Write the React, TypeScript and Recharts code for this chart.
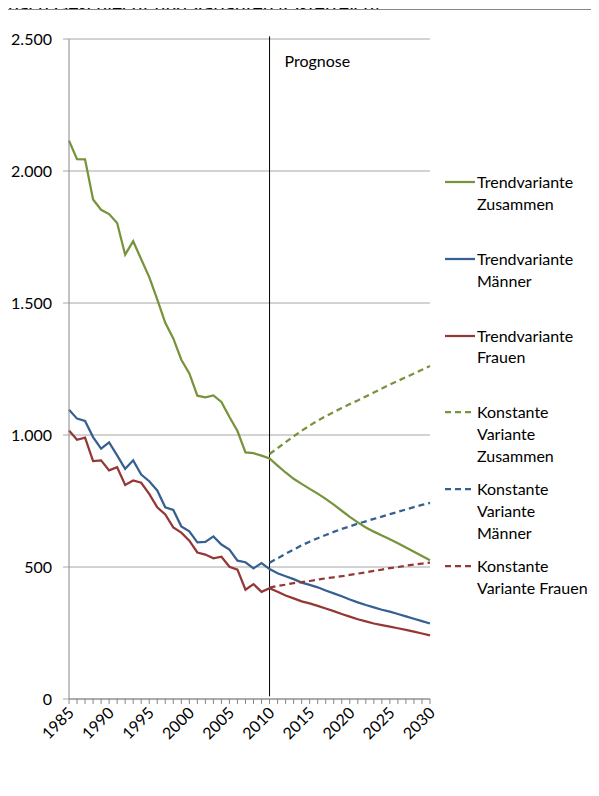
import React from 'react';
import {
  LineChart,
  Line,
  XAxis,
  YAxis,
  CartesianGrid,
  ReferenceLine,
  Legend,
} from 'recharts';

const FONT = 'Lato, "Open Sans", sans-serif';

const years = [
  1985, 1986, 1987, 1988, 1989, 1990, 1991, 1992, 1993, 1994,
  1995, 1996, 1997, 1998, 1999, 2000, 2001, 2002, 2003, 2004,
  2005, 2006, 2007, 2008, 2009, 2010, 2011, 2012, 2013, 2014,
  2015, 2016, 2017, 2018, 2019, 2020, 2021, 2022, 2023, 2024,
  2025, 2026, 2027, 2028, 2029, 2030,
];

// Trendvariante, 1985–2030
const trendZusammen = [
  2115, 2045, 2044, 1892, 1853, 1837, 1803, 1683, 1734, 1666,
  1598, 1514, 1425, 1366, 1285, 1233, 1149, 1143, 1150, 1125,
  1068, 1015, 934, 931, 922, 911, 884, 858, 834, 815,
  796, 778, 758, 736, 713, 690, 669, 650, 634, 619,
  605, 590, 574, 558, 542, 526,
];
const trendMaenner = [
  1096, 1062, 1053, 992, 948, 972, 923, 872, 904, 850,
  825, 790, 726, 716, 654, 635, 593, 595, 616, 585,
  566, 524, 518, 495, 515, 492, 476, 465, 454, 441,
  432, 423, 411, 400, 389, 377, 366, 356, 347, 338,
  331, 322, 313, 304, 295, 286,
];
const trendFrauen = [
  1017, 982, 990, 901, 904, 866, 878, 811, 828, 819,
  777, 726, 699, 650, 630, 600, 555, 547, 533, 539,
  501, 490, 414, 435, 406, 420, 406, 392, 381, 370,
  362, 353, 343, 333, 322, 312, 302, 294, 286, 280,
  274, 268, 262, 255, 248, 241,
];

// Konstante Variante, 2010–2030
const konstanteStart = 2010;
const konstZusammen = [
  928, 950, 973, 995, 1016, 1036, 1054, 1071, 1087, 1102,
  1117, 1131, 1146, 1161, 1176, 1191, 1205, 1219, 1233, 1247,
  1261,
];
const konstMaenner = [
  516, 533, 550, 566, 582, 596, 609, 621, 633, 644,
  654, 664, 673, 682, 691, 700, 709, 718, 727, 735,
  743,
];
const konstFrauen = [
  422, 428, 433, 439, 443, 447, 452, 457, 461, 465,
  470, 475, 480, 485, 490, 496, 500, 505, 509, 513,
  517,
];

const yTicks = [0, 500, 1000, 1500, 2000, 2500];
const labelledYears = [1985, 1990, 1995, 2000, 2005, 2010, 2015, 2020, 2025, 2030];

const series = [
  { key: 'tz', name: 'Trendvariante\nZusammen', color: '#77933C', dashed: false },
  { key: 'tm', name: 'Trendvariante\nMänner', color: '#376092', dashed: false },
  { key: 'tf', name: 'Trendvariante\nFrauen', color: '#953735', dashed: false },
  { key: 'kz', name: 'Konstante\nVariante\nZusammen', color: '#77933C', dashed: true },
  { key: 'km', name: 'Konstante\nVariante\nMänner', color: '#376092', dashed: true },
  { key: 'kf', name: 'Konstante\nVariante Frauen', color: '#953735', dashed: true },
];

const offset = years.indexOf(konstanteStart);
const data = years.map((year, i) => ({
  year,
  tz: trendZusammen[i],
  tm: trendMaenner[i],
  tf: trendFrauen[i],
  kz: i >= offset ? konstZusammen[i - offset] : null,
  km: i >= offset ? konstMaenner[i - offset] : null,
  kf: i >= offset ? konstFrauen[i - offset] : null,
}));

const formatDe = (v: number) => String(v).replace(/\B(?=(\d{3})+(?!\d))/g, '.');

const DASH = '6 4';

const XTick = (props: any) => {
  const { x, y, payload } = props;
  if (!labelledYears.includes(payload.value)) return <g />;
  return (
    <g transform={`translate(${x + 2},${y + 4})`}>
      <text
        textAnchor="end"
        transform="rotate(-45)"
        dy="0.35em"
        fontFamily={FONT}
        fontSize={16}
        fill="#000"
      >
        {payload.value}
      </text>
    </g>
  );
};

// Legend entries in series order, each in a fixed-height slot
const renderLegend = () => (
  <div style={{ fontFamily: FONT, fontSize: 16, color: '#000' }}>
    {series.map((cfg) => (
      <div key={cfg.key} style={{ position: 'relative', height: 76.8 }}>
        <svg
          width={30}
          height={4}
          style={{ position: 'absolute', left: 0, top: 9 }}
        >
          <line
            x1={0}
            y1={2}
            x2={30}
            y2={2}
            stroke={cfg.color}
            strokeWidth={2.25}
            strokeDasharray={cfg.dashed ? DASH : undefined}
          />
        </svg>
        <div
          style={{
            position: 'absolute',
            left: 32,
            top: 0,
            lineHeight: '21.7px',
            whiteSpace: 'pre-line',
          }}
        >
          {cfg.name}
        </div>
      </div>
    ))}
  </div>
);

const PrognoseLabel = (props: any) => {
  const vb = props.viewBox || {};
  return (
    <text
      x={(vb.x || 0) + 15}
      y={(vb.y || 0) + 31}
      fontFamily={FONT}
      fontSize={16}
      fill="#000"
    >
      Prognose
    </text>
  );
};

export default function App() {
  return (
    <div
      style={{
        position: 'relative',
        width: 599,
        height: 796,
        margin: -8,
        overflow: 'hidden',
        background: '#fff',
      }}
    >
      <div style={{ position: 'absolute', left: 0, top: 0, width: 599, height: 796 }}>
        <div
          style={{
            position: 'absolute',
            left: 7,
            top: 9,
            width: 700,
            height: 900,
            borderTop: '1px solid #868686',
            borderLeft: '1px solid #868686',
          }}
        />
        <LineChart
          width={599}
          height={796}
          data={data}
          margin={{ top: 39, right: 169, bottom: 37, left: 9 }}
        >
          <CartesianGrid vertical={false} stroke="#a6a6a6" />
          <XAxis
            dataKey="year"
            type="number"
            domain={[1985, 2030]}
            ticks={years}
            interval={0}
            height={60}
            tickSize={5}
            tickMargin={2}
            axisLine={{ stroke: '#868686' }}
            tickLine={{ stroke: '#868686' }}
            tick={<XTick />}
          />
          <YAxis
            type="number"
            domain={[0, 2500]}
            ticks={yTicks}
            width={60}
            tickSize={6}
            tickMargin={11}
            axisLine={{ stroke: '#868686' }}
            tickLine={{ stroke: '#a6a6a6' }}
            tickFormatter={formatDe}
            tick={{ fontFamily: FONT, fontSize: 16, fill: '#000' }}
          />
          <ReferenceLine
            segment={[
              { x: konstanteStart, y: 10 },
              { x: konstanteStart, y: 2510 },
            ]}
            ifOverflow="visible"
            stroke="#000"
            strokeWidth={1}
            label={<PrognoseLabel />}
          />
          {series.map((s) => (
            <Line
              key={s.key}
              dataKey={s.key}
              name={s.name}
              type="linear"
              stroke={s.color}
              strokeWidth={2.25}
              strokeDasharray={s.dashed ? DASH : undefined}
              dot={false}
              activeDot={false}
              isAnimationActive={false}
            />
          ))}
          <Legend
            layout="vertical"
            align="center"
            verticalAlign="middle"
            content={renderLegend}
            wrapperStyle={{ position: 'absolute', left: 445, top: 171, width: 154 }}
          />
        </LineChart>
      </div>
      {/* Titel, am oberen Rand angeschnitten */}
      <svg
        width={599}
        height={9}
        style={{ position: 'absolute', left: 0, top: 0, zIndex: 2 }}
      >
        <text x={8} y={14} fontFamily={FONT} fontSize={19.6} fill="#000">
          nach Geschlecht und Varianten (Österreich)
        </text>
      </svg>
    </div>
  );
}
